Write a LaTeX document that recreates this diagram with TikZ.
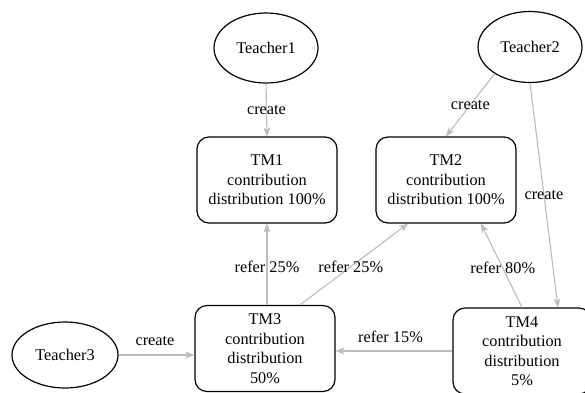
\documentclass[tikz,border=0pt]{standalone}
\usepackage{fontspec}
\setmainfont{Liberation Serif}
\usetikzlibrary{arrows.meta,shapes.geometric}

\definecolor{edgegray}{RGB}{188,188,188}

\tikzset{
  teacher/.style={ellipse, draw=black, line width=1.2pt, inner sep=0pt},
  tmbox/.style={rectangle, rounded corners=12pt, draw=black, line width=1.2pt,
                minimum width=140pt, minimum height=86pt, align=center, inner sep=0pt},
  link/.style={draw=edgegray, line width=1.1pt,
               -{Stealth[length=9pt,width=7pt,inset=2.5pt]}},
  lbl/.style={inner sep=0pt, text=black}
}

\begin{document}
\begin{tikzpicture}[x=1pt, y=-1pt, font=\fontsize{16.3}{19.5}\selectfont]
  % canvas
  \useasboundingbox (0,0) rectangle (585,392);
  \fill[white] (0,0) rectangle (585,392);

  % teachers
  \node[teacher, minimum width=104pt, minimum height=70pt] (T1) at (266,48) {Teacher1};
  \node[teacher, minimum width=104pt, minimum height=71pt] (T2) at (530,47) {Teacher2};
  \node[teacher, minimum width=106pt, minimum height=66pt] (T3) at (65,355) {Teacher3};

  % teaching models
  \node[tmbox] (TM1) at (267,180) {TM1\\contribution\\distribution 100\%};
  \node[tmbox] (TM2) at (446,180) {TM2\\contribution\\distribution 100\%};
  \node[tmbox] (TM3) at (265,348.5) {TM3\\contribution\\distribution\\50\%};
  \node[tmbox, minimum width=138pt] (TM4) at (522,351) {TM4\\contribution\\distribution\\5\%};

  % create edges
  \draw[link] (T1.south) -- (TM1.north)
    node[lbl, pos=0.5] (c1) {create};
  \draw[link] (T2.217) -- (TM2.north)
    node[lbl, pos=0.5] (c2) {create};
  \draw[link] (T2.south) -- ([xshift=36pt]TM4.north)
    node[lbl, pos=0.5] (c4) {create};
  \draw[link] (T3.east) -- (T3.east -| TM3.west)
    node[lbl, pos=0.48, yshift=14pt] (c3) {create};

  % refer edges
  \draw[link] (TM1.south |- TM3.north) -- (TM1.south)
    node[lbl, pos=0.47] (r1) {refer 25\%};
  \draw[link] ([xshift=35pt]TM3.north) -- ([xshift=-38pt]TM2.south)
    node[lbl, pos=0.47] (r2) {refer 25\%};
  \draw[link] (TM4.north) -- ([xshift=35pt]TM2.south)
    node[lbl, pos=0.47] (r3) {refer 80\%};
  \draw[link] (TM4.west) -- (TM4.west -| TM3.east)
    node[lbl, pos=0.53, yshift=14pt] (r4) {refer 15\%};
\end{tikzpicture}
\end{document}
